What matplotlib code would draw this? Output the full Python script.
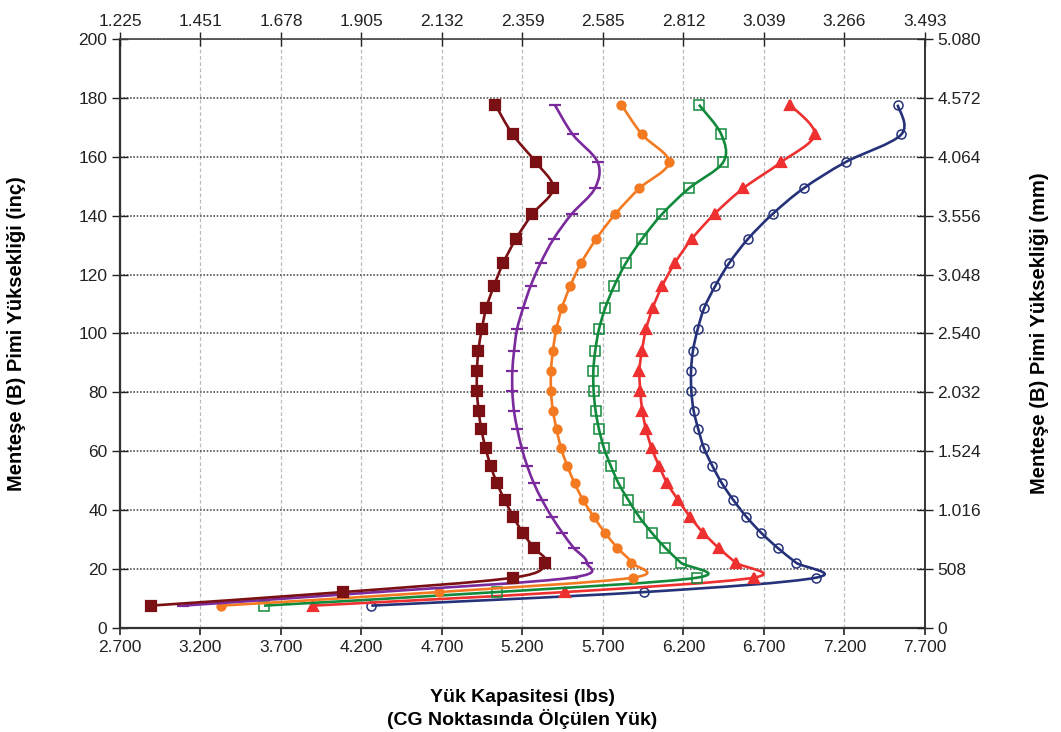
import matplotlib
matplotlib.use("Agg")
import matplotlib.pyplot as plt
from matplotlib.path import Path
from matplotlib.patches import PathPatch
import numpy as np

plt.rcParams['font.family'] = ['Liberation Sans', 'DejaVu Sans']

# pin height (inch), shared by all series
pin_height = [7.6, 12.2, 17.1, 22.2, 27.2, 32.4, 37.8, 43.5, 49.1, 55.1, 61.1, 67.5, 73.8,
              80.4, 87.3, 94.2, 101.4, 108.7, 116.2, 124.0, 132.2, 140.6, 149.3, 158.2,
              167.6, 177.7]

# load capacity (lbs) per series
load_darkred = [2893, 4085, 5143, 5342, 5271, 5201, 5143, 5089, 5042, 5002, 4971, 4944, 4928,
                4917, 4917, 4926, 4947, 4975, 5023, 5081, 5160, 5262, 5391, 5282, 5139, 5031]
load_purple = [3093, 4300, 5506, 5599, 5518, 5447, 5381, 5321, 5271, 5229, 5195, 5168, 5147,
               5137, 5137, 5148, 5166, 5204, 5251, 5313, 5394, 5506, 5650, 5667, 5512, 5400]
load_orange = [3329, 4681, 5886, 5876, 5789, 5712, 5642, 5576, 5524, 5478, 5439, 5412, 5389,
               5377, 5377, 5389, 5410, 5445, 5497, 5565, 5659, 5777, 5926, 6110, 5942, 5814]
load_green = [3594, 5042, 6286, 6183, 6087, 6002, 5924, 5857, 5797, 5748, 5706, 5675, 5654,
              5642, 5640, 5652, 5675, 5714, 5770, 5843, 5944, 6068, 6234, 6447, 6435, 6296]
load_red = [3901, 5464, 6636, 6524, 6418, 6321, 6240, 6166, 6099, 6048, 6002, 5967, 5944,
            5932, 5926, 5942, 5967, 6009, 6068, 6147, 6253, 6393, 6571, 6807, 7015, 6861]
load_navy = [4261, 5957, 7025, 6899, 6785, 6681, 6590, 6509, 6439, 6379, 6327, 6292, 6263,
             6249, 6247, 6259, 6288, 6329, 6398, 6485, 6602, 6754, 6946, 7207, 7553, 7530]

x_ticks = [2700, 3200, 3700, 4200, 4700, 5200, 5700, 6200, 6700, 7200, 7700]
x_labels = ["2.700", "3.200", "3.700", "4.200", "4.700", "5.200", "5.700", "6.200",
            "6.700", "7.200", "7.700"]
top_labels = ["1.225", "1.451", "1.678", "1.905", "2.132", "2.359", "2.585", "2.812",
              "3.039", "3.266", "3.493"]
y_ticks = [0, 20, 40, 60, 80, 100, 120, 140, 160, 180, 200]
mm_labels = ["0", "508", "1.016", "1.524", "2.032", "2.540", "3.048", "3.556", "4.064",
             "4.572", "5.080"]


def smooth_path(xs, ys):
    # excel-like smoothed line: cubic bezier through every point
    pts = np.column_stack([xs, ys]).astype(float)
    n = len(pts)
    verts = [pts[0]]
    codes = [Path.MOVETO]
    for i in range(n - 1):
        p0 = pts[max(i - 1, 0)]
        p1 = pts[i]
        p2 = pts[i + 1]
        p3 = pts[min(i + 2, n - 1)]
        verts += [p1 + (p2 - p0) / 6, p2 - (p3 - p1) / 6, p2]
        codes += [Path.CURVE4] * 3
    return Path(verts, codes)


fig = plt.figure(figsize=(10.61, 7.32), dpi=100)
ax = fig.add_axes([0.1131, 0.1421, 0.7587, 0.8046])

series = [
    (load_navy, "#25327a", "o", "none", 6.5),
    (load_red, "#ee3030", "^", "#ee3030", 7.5),
    (load_green, "#128a3c", "s", "none", 6.5),
    (load_orange, "#f47a22", "o", "#f47a22", 5.8),
    (load_purple, "#7a2a9c", "_", "#7a2a9c", 8),
    (load_darkred, "#7a1014", "s", "#7a1014", 6.5),
]

for k, (xs, col, mk, mfc, ms) in enumerate(series):
    patch = PathPatch(smooth_path(xs, pin_height), facecolor="none", edgecolor=col,
                      lw=1.9, zorder=3 + k)
    ax.add_patch(patch)
    ax.plot(xs, pin_height, linestyle="none", marker=mk, color=col, mfc=mfc, mec=col,
            ms=ms, mew=1.1 if mfc == "none" else 1.6, zorder=3 + k)

ax.set_xlim(2700, 7700)
ax.set_ylim(0, 200)
ax.set_xticks(x_ticks)
ax.set_xticklabels(x_labels)
ax.set_yticks(y_ticks)
ax.tick_params(axis="both", labelsize=12.5, colors="#222")
ax.tick_params(axis="x", direction="out", length=5, width=1.2, pad=4)
ax.tick_params(axis="y", direction="inout", length=12, width=1.0, pad=3)

ax.xaxis.grid(True, linestyle=(0, (3, 2)), color="#bbbbbb", lw=0.9)
ax.yaxis.grid(True, linestyle=(0, (1, 1)), color="#555555", lw=1.2)
ax.set_axisbelow(True)

for s in ["left", "bottom"]:
    ax.spines[s].set_color("#333")
    ax.spines[s].set_linewidth(1.6)
ax.spines["top"].set_visible(False)
ax.spines["right"].set_visible(False)

ax.set_xlabel("Yük Kapasitesi (lbs)\n(CG Noktasında Ölçülen Yük)", fontsize=14,
              fontweight="bold", linespacing=1.15)
ax.xaxis.set_label_coords(0.5, -0.104)
ax.set_ylabel("Menteşe (B) Pimi Yüksekliği (inç)", fontsize=14.5, fontweight="bold")
ax.yaxis.set_label_coords(-0.117, 0.5)

# top axis (kg)
ax_top = ax.twiny()
ax_top.set_xlim(ax.get_xlim())
ax_top.set_xticks(x_ticks)
ax_top.set_xticklabels(top_labels)
ax_top.tick_params(axis="x", direction="inout", length=10, width=1.0, labelsize=12.5,
                   colors="#222", pad=2)
ax_top.spines["top"].set_linestyle((0, (2, 1)))
ax_top.spines["top"].set_color("#444")
ax_top.spines["top"].set_linewidth(1.2)
for s in ["left", "bottom", "right"]:
    ax_top.spines[s].set_visible(False)

# right axis (mm)
ax_r = ax.twinx()
ax_r.set_ylim(ax.get_ylim())
ax_r.set_yticks(y_ticks)
ax_r.set_yticklabels(mm_labels)
ax_r.tick_params(axis="y", direction="inout", length=12, width=1.0, labelsize=12.5,
                 colors="#222", pad=3)
ax_r.spines["right"].set_color("#333")
ax_r.spines["right"].set_linewidth(1.4)
for s in ["left", "bottom", "top"]:
    ax_r.spines[s].set_visible(False)
ax_r.set_ylabel("Menteşe (B) Pimi Yüksekliği (mm)", fontsize=14.5, fontweight="bold",
                rotation=90)
ax_r.yaxis.set_label_coords(1.131, 0.5)

fig.savefig("out.png", dpi=100)
